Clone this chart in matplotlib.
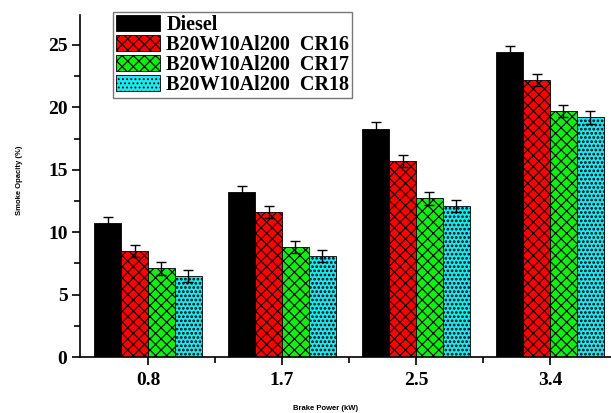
import numpy as np
import matplotlib
matplotlib.use("Agg")
from matplotlib import pyplot as plt
from matplotlib.ticker import MultipleLocator

# brake power levels (kW) and smoke opacity (%) per fuel / compression ratio
power = ["0.8", "1.7", "2.5", "3.4"]
diesel = [10.7, 13.2, 18.3, 24.4]
cr16 = [8.5, 11.6, 15.7, 22.2]
cr17 = [7.1, 8.8, 12.7, 19.7]
cr18 = [6.5, 8.1, 12.1, 19.2]
err_diesel = [0.5, 0.5, 0.5, 0.5]
err_cr16 = [0.45, 0.5, 0.5, 0.5]
err_cr17 = [0.5, 0.5, 0.5, 0.5]
err_cr18 = [0.5, 0.5, 0.5, 0.5]
names = ["Diesel", "B20W10Al200  CR16", "B20W10Al200  CR17", "B20W10Al200  CR18"]

serif = ['Liberation Serif', 'DejaVu Serif']
plt.rcParams['hatch.linewidth'] = 0.8

fig = plt.figure(figsize=(6.11, 4.13), dpi=100)
ax = fig.add_axes([80 / 611, 1 - 357 / 413, 531 / 611, 342 / 413])

x = np.arange(len(power))
w = 0.2
series = [diesel, cr16, cr17, cr18]
errs = [err_diesel, err_cr16, err_cr17, err_cr18]
colors = ['black', '#ff0000', '#11ee11', '#22e6ee']
hatches = [None, 'xxx', 'xxx', '....']
hatch_lw = [0.8, 0.8, 0.8, 1.3]

for i, (vals, e) in enumerate(zip(series, errs)):
    bars = ax.bar(x + (i - 1.5) * w, vals, w, color=colors[i], edgecolor='black',
                  linewidth=0.6, hatch=hatches[i], label=names[i],
                  yerr=e, capsize=3.5, error_kw=dict(ecolor='black', elinewidth=1, capthick=1))
    for b in bars:
        if hasattr(b, 'set_hatch_linewidth'):
            b.set_hatch_linewidth(hatch_lw[i])

ax.set_xlim(-0.507, 3.455)
ax.set_ylim(0, 27.4)
ax.set_xticks(x)
ax.set_xticklabels(power)
ax.set_xticks(x[:-1] + 0.5, minor=True)
ax.yaxis.set_major_locator(MultipleLocator(5))
ax.yaxis.set_minor_locator(MultipleLocator(2.5))

for lab in ax.get_xticklabels() + ax.get_yticklabels():
    lab.set_family(serif)
    lab.set_fontweight('bold')
    lab.set_fontsize(14)

ax.tick_params(axis='both', which='major', direction='out', length=6, width=1.2)
ax.tick_params(axis='both', which='minor', direction='out', length=4, width=1.2)
ax.tick_params(axis='y', which='major', pad=3)
ax.tick_params(axis='x', which='major', pad=5)
ax.spines['top'].set_visible(False)
ax.spines['right'].set_visible(False)
ax.spines['left'].set_linewidth(1.2)
ax.spines['bottom'].set_linewidth(1.2)

sans = ['Liberation Sans', 'DejaVu Sans']
fig.text(20 / 611, 1 - 180 / 413, "Smoke Opacity (%)", rotation=90, ha='center', va='center',
         fontsize=5.5, fontweight='bold', family=sans)
fig.text(326 / 611, 1 - 408 / 413, "Brake Power (kW)", ha='center', va='center',
         fontsize=5.5, fontweight='bold', family=sans)

leg = ax.legend(loc='upper left', bbox_to_anchor=(113 / 611, 1 - 12 / 413),
                bbox_transform=fig.transFigure, frameon=True, fancybox=False,
                edgecolor='#555555', borderpad=0.15, handlelength=2.2, handleheight=0.85,
                handletextpad=0.3, labelspacing=0.0, borderaxespad=0.0,
                prop=dict(family=serif, weight='bold', size=14.5))
leg.get_frame().set_linewidth(1.0)

fig.savefig("out.png", dpi=100)
